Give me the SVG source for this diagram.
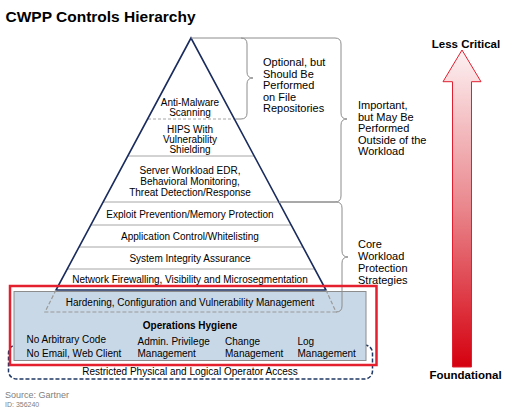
<svg xmlns="http://www.w3.org/2000/svg" width="512" height="411" viewBox="0 0 512 411">
<style>
text{font-family:"Liberation Sans",Arial,sans-serif;fill:#000}
.p{font-size:10px;text-anchor:middle}
.l{font-size:11px}
.b{font-size:10px}
.div{stroke:#a6a6a6;stroke-width:1;fill:none}
.br{stroke:#8c8c8c;stroke-width:1;fill:none}
</style>
<defs>
<linearGradient id="ag" x1="0" y1="0" x2="0" y2="1">
<stop offset="0" stop-color="#fdf1f2"/>
<stop offset="0.5" stop-color="#e9868c"/>
<stop offset="1" stop-color="#d5000f"/>
</linearGradient>
</defs>
<rect width="512" height="411" fill="#fff"/>
<text x="5.5" y="21.5" style="font-size:15.5px;font-weight:bold">CWPP Controls Hierarchy</text>

<g id="restricted-access">
<rect x="8.5" y="345" width="364" height="34" rx="8" fill="none" stroke="#1f3864" stroke-width="1.5" stroke-dasharray="4 2"/>
</g>
<g id="operations-hygiene">
<rect x="14" y="291.5" width="352" height="69" fill="#c9d8e7" stroke="#8c8c8c" stroke-width="1"/>
</g>

<g id="pyramid">
<polygon points="191,38 56,290 326,290" fill="#fff" stroke="none"/>
<line class="div" x1="148" y1="119" x2="237" y2="119" stroke-dasharray="3 2"/>
<line class="div" x1="128" y1="156" x2="254" y2="156"/>
<line class="div" x1="103" y1="202" x2="279" y2="202"/>
<line class="div" x1="91" y1="225" x2="291" y2="225"/>
<line class="div" x1="79" y1="247" x2="303" y2="247"/>
<line class="div" x1="67" y1="269" x2="315" y2="269"/>
<polygon points="191,38 56,290 326,290" fill="none" stroke="#1a2b5e" stroke-width="1.6" stroke-linejoin="miter"/>
<path d="M56,290 L45,312 H336 L326,290" fill="none" stroke="#9a9a9a" stroke-width="1.2" stroke-dasharray="4 2"/>
</g>

<g id="connectors">
<path class="br" d="M191,38 H335 Q341,38 341,44 V113 Q341,119 347,119 Q341,119 341,125 V196 Q341,202 335,202 H279"/>
<path class="br" d="M241,38 Q247,38 247,44 V72 Q247,78 253,78 Q247,78 247,84 V113 Q247,119 241,119 H236"/>
<path class="br" d="M279,202 H336 Q342,202 342,208 V251 Q342,257 348,257 Q342,257 342,263 V306 Q342,312 336,312"/>
</g>

<g id="highlight">
<rect x="10" y="286" width="366.5" height="79" fill="none" stroke="#e5202e" stroke-width="2.5"/>
</g>

<g id="labels-pyramid">
<text class="p" x="190" y="105.5">Anti-Malware</text>
<text class="p" x="190" y="115.5">Scanning</text>
<text class="p" x="190" y="132.5">HIPS With</text>
<text class="p" x="190" y="142.5">Vulnerability</text>
<text class="p" x="190" y="152.5">Shielding</text>
<text class="p" x="190" y="174">Server Workload EDR,</text>
<text class="p" x="190" y="185">Behavioral Monitoring,</text>
<text class="p" x="190" y="196">Threat Detection/Response</text>
<text class="p" x="190" y="217.5">Exploit Prevention/Memory Protection</text>
<text class="p" x="190" y="240">Application Control/Whitelisting</text>
<text class="p" x="190" y="262">System Integrity Assurance</text>
<text class="p" x="190" y="282.5">Network Firewalling, Visibility and Microsegmentation</text>
<text class="p" x="190" y="306">Hardening, Configuration and Vulnerability Management</text>
<text class="p" x="190" y="328.6" style="font-weight:bold">Operations Hygiene</text>
<text class="b" x="26.5" y="342.5">No Arbitrary Code</text>
<text class="b" x="26.5" y="357">No Email, Web Client</text>
<text class="b" x="137.5" y="344.5">Admin. Privilege</text>
<text class="b" x="137.5" y="356.5">Management</text>
<text class="b" x="225" y="344.5">Change</text>
<text class="b" x="225" y="356.5">Management</text>
<text class="b" x="297.5" y="344.5">Log</text>
<text class="b" x="297.5" y="356.5">Management</text>
<text class="p" x="190" y="375.3">Restricted Physical and Logical Operator Access</text>
</g>

<g id="labels-braces">
<text class="l" x="263" y="66">Optional, but</text>
<text class="l" x="263" y="77.5">Should Be</text>
<text class="l" x="263" y="89">Performed</text>
<text class="l" x="263" y="100.5">on File</text>
<text class="l" x="263" y="112">Repositories</text>
<text class="l" x="358" y="109">Important,</text>
<text class="l" x="358" y="120.5">but May Be</text>
<text class="l" x="358" y="132">Performed</text>
<text class="l" x="358" y="143.5">Outside of the</text>
<text class="l" x="358" y="155">Workload</text>
<text class="l" x="358" y="247.5">Core</text>
<text class="l" x="358" y="259.5">Workload</text>
<text class="l" x="358" y="271.5">Protection</text>
<text class="l" x="358" y="283.5">Strategies</text>
</g>

<g id="criticality-arrow">
<polygon points="462,50 481,81.7 471.5,81.7 471.5,367 452.5,367 452.5,81.7 443,81.7" fill="url(#ag)" stroke="#e02030" stroke-width="1"/>
<text x="466" y="48" style="font-size:11.5px;font-weight:bold;text-anchor:middle">Less Critical</text>
<text x="465.5" y="379" style="font-size:11.5px;font-weight:bold;text-anchor:middle">Foundational</text>
</g>

<text x="5" y="398" style="font-size:9px;fill:#808080">Source: Gartner</text>
<text x="5" y="406.5" style="font-size:7px;fill:#808080">ID: 356240</text>
</svg>
